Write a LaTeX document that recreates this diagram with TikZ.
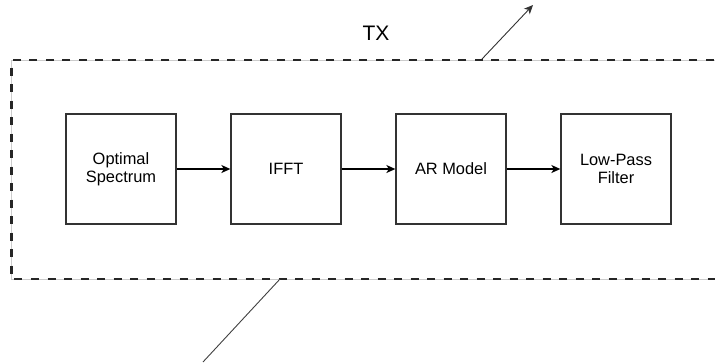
\documentclass[tikz,border=0pt]{standalone}
\usepackage{fontspec}
\setmainfont{Liberation Sans}
\usetikzlibrary{positioning}
\usetikzlibrary{arrows.meta}

\begin{document}
\begin{tikzpicture}[x=1pt, y=-1pt,
    block/.style={draw, line width=1.3pt, draw=black!80, minimum width=110pt, minimum height=110pt,
                  align=center, inner sep=0pt, font=\fontsize{16.4}{18}\selectfont},
    flow/.style={-{Stealth[length=9pt, width=8pt, inset=2.5pt]}, line width=1.3pt}]
    \useasboundingbox (0, 0) rectangle (715, 362);

    % TX frame
    \draw[black!20, line width=0.6pt] (730, 60) -- (11.5, 60) -- (11.5, 279) -- (730, 279);
    \draw[line width=2.3pt, black!85, dash pattern=on 8pt off 8.5pt] (730, 60) -- (11.5, 60) -- (11.5, 279) -- (730, 279);
    \node[font=\fontsize{21}{25}\selectfont] (tx) at (376, 33) {TX};

    % Blocks
    \node[block] (spec) at (121, 169) {Optimal\\Spectrum};
    \node[block, right=53.7pt of spec] (ifft) {IFFT};
    \node[block, right=53.7pt of ifft] (armodel) {AR Model};
    \node[block, right=53.7pt of armodel] (lpf) {Low-Pass\\Filter};

    \draw[flow] (spec) -- (ifft);
    \draw[flow] (ifft) -- (armodel);
    \draw[flow] (armodel) -- (lpf);

    % Pointers
    \coordinate (outtop) at (482, 59);
    \coordinate (outtip) at (533, 5);
    \draw[-{Stealth[length=9pt, width=8pt, inset=2.5pt]}, line width=0.9pt, black!80] (outtop) -- (outtip);
    \coordinate (inbot) at (280, 279);
    \coordinate (inend) at (203, 362);
    \draw[line width=0.9pt, black!75] (inbot) -- (inend);
\end{tikzpicture}
\end{document}
